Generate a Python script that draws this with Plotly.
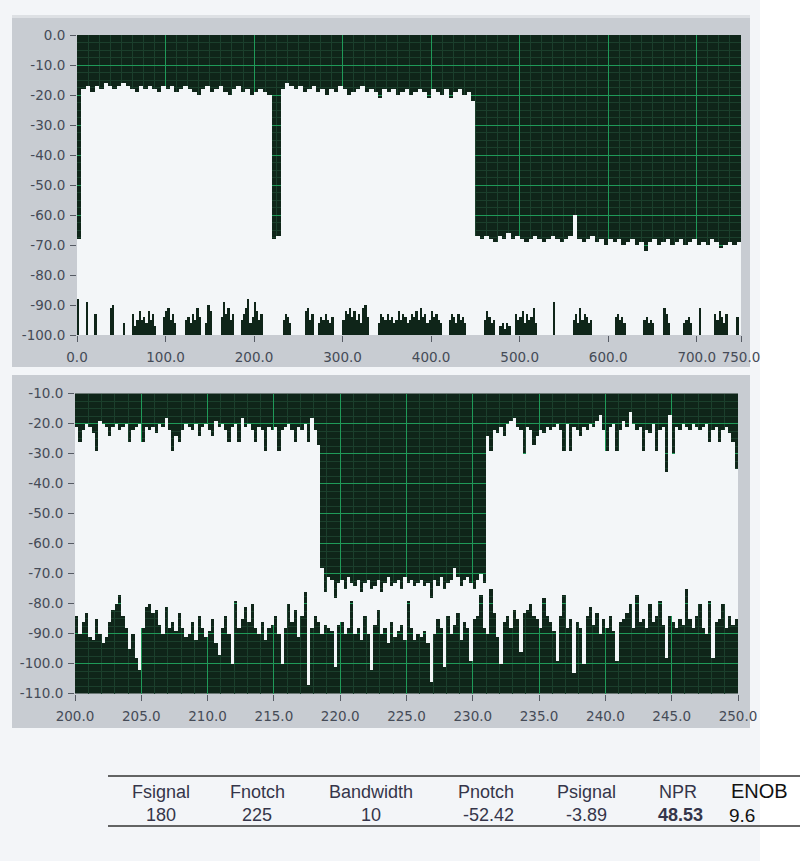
import plotly.graph_objects as go

W, H = 800, 861

# ---------------- DATA ----------------
# Full-band spectrum 0..750 (upper envelope, dB), bins of 5 units
TOP_START = 0.0
TOP_STEP = 5.0
top_upper = [
    -68,
    -18, -17, -19, -17, -18, -16, -17, -18, -17, -16,
    -17, -18, -19, -17, -18, -17, -18, -19, -17, -18,
    -17, -19, -18, -17, -18, -19, -20, -18, -17, -19,
    -18, -17, -19, -20, -18, -17, -19, -18, -20, -19,
    -18, -19, -20,
    -68, -67,
    -18, -16, -17, -18, -17, -19, -18, -17, -19, -18,
    -20, -18, -19, -17, -18, -20, -19, -18, -17, -19,
    -18, -19, -21, -18, -19, -18, -20, -19, -18, -20,
    -19, -18, -19, -21, -18, -19, -20, -18, -21, -19,
    -18, -20, -19, -22,
    -67, -68, -67, -68, -69, -67, -68, -66, -68, -67,
    -68, -69, -68, -67, -68, -69, -68, -67, -68, -69,
    -68, -67, -60, -68, -69, -68, -67, -69, -68, -70,
    -68, -69, -68, -70, -69, -68, -70, -69, -72, -69,
    -68, -70, -69, -68, -70, -69, -68, -70, -69, -68,
    -70, -69, -70, -68, -69, -71, -70, -69, -70, -69,
]
# Full-band spectrum lower envelope (dB), bins of 2.5 units
TOP_FLOOR_STEP = 2.5
top_floor = [
    -88, -100, -100, -100, -89, -100, -100, -100, -93, -100,
    -100, -100, -100, -100, -100, -91, -90, -100, -100, -100,
    -100, -96, -100, -100, -100, -93, -97, -95, -92, -95,
    -94, -96, -92, -95, -93, -97, -100, -100, -100, -94,
    -92, -91, -95, -93, -96, -100, -100, -100, -100, -95,
    -94, -96, -93, -95, -91, -94, -100, -100, -96, -90,
    -92, -100, -100, -100, -100, -94, -89, -93, -91, -95,
    -93, -100, -100, -100, -95, -93, -91, -88, -96, -94,
    -89, -92, -95, -93, -100, -100, -100, -100, -100, -100,
    -100, -100, -100, -95, -93, -94, -96, -100, -100, -100,
    -100, -100, -100, -92, -91, -95, -93, -100, -100, -96,
    -94, -95, -93, -95, -96, -94, -100, -100, -100, -100,
    -95, -92, -93, -91, -94, -92, -95, -93, -96, -91,
    -90, -94, -100, -100, -100, -100, -96, -93, -94, -95,
    -93, -95, -94, -96, -95, -92, -95, -93, -94, -96,
    -95, -93, -94, -92, -95, -91, -94, -93, -96, -95,
    -92, -94, -93, -95, -96, -100, -100, -100, -95, -93,
    -94, -96, -93, -95, -94, -96, -100, -100, -100, -100,
    -100, -100, -100, -100, -95, -92, -94, -96, -95, -100,
    -100, -97, -96, -98, -96, -97, -100, -100, -93, -95,
    -94, -92, -96, -93, -95, -94, -91, -96, -100, -100,
    -100, -100, -100, -100, -100, -89, -100, -100, -100, -100,
    -100, -100, -100, -100, -95, -93, -96, -91, -95, -93,
    -94, -96, -95, -100, -100, -100, -100, -100, -100, -100,
    -100, -100, -100, -94, -93, -95, -94, -96, -100, -100,
    -100, -100, -100, -100, -100, -100, -95, -94, -96, -95,
    -96, -100, -100, -100, -100, -91, -93, -96, -100, -100,
    -100, -100, -100, -100, -96, -95, -94, -96, -100, -100,
    -100, -91, -100, -100, -100, -100, -100, -100, -93, -95,
    -92, -94, -96, -93, -100, -100, -100, -100, -94, -100,
]

# Zoomed spectrum 200..250, bins of 0.25 units
ZOOM_START = 200.0
ZOOM_STEP = 0.25
zoom_upper = [
    -21, -26, -22, -20, -21, -23, -29, -19, -20, -21,
    -24, -21, -20, -22, -21, -20, -26, -22, -21, -20,
    -26, -21, -22, -21, -23, -20, -21, -18, -22, -29,
    -24, -26, -22, -20, -21, -22, -20, -24, -21, -20,
    -22, -24, -19, -21, -20, -22, -26, -21, -20, -26,
    -18, -21, -20, -22, -26, -21, -22, -29, -21, -22,
    -21, -29, -22, -21, -20, -22, -26, -21, -22, -20,
    -26, -18, -22, -27,
    -68, -76, -71, -72, -78, -73, -72, -75, -71, -73,
    -74, -72, -76, -73, -72, -75, -74, -72, -76, -73,
    -71, -74, -73, -72, -75, -71, -73, -72, -74, -73,
    -72, -74, -73, -78, -72, -74, -71, -75, -73, -72,
    -68, -71, -74, -72, -71, -73, -75, -72, -70, -73,
    -24, -29, -22, -23, -21, -24, -20, -19, -18, -21,
    -22, -30, -21, -22, -27, -24, -22, -23, -21, -22,
    -21, -20, -22, -29, -20, -29, -21, -22, -24, -21,
    -22, -20, -21, -19, -17, -22, -29, -21, -20, -29,
    -22, -19, -21, -16, -20, -22, -21, -29, -22, -23,
    -20, -29, -22, -21, -36, -17, -30, -21, -22, -20,
    -21, -22, -20, -21, -22, -21, -20, -26, -22, -21,
    -26, -22, -21, -23, -26, -35,
]
zoom_lower = [
    -84, -90, -86, -83, -91, -92, -85, -90, -93, -91,
    -86, -82, -80, -77, -84, -88, -95, -90, -98, -102,
    -88, -81, -80, -83, -82, -87, -90, -81, -88, -86,
    -89, -83, -88, -91, -90, -86, -92, -84, -88, -91,
    -89, -85, -93, -97, -88, -84, -90, -100, -79, -88,
    -85, -81, -86, -80, -88, -90, -86, -92, -88, -87,
    -84, -90, -100, -88, -80, -86, -82, -91, -84, -76,
    -107, -88, -84, -86, -90, -87, -88, -89, -101, -87,
    -86, -90, -88, -79, -90, -88, -92, -84, -90, -102,
    -87, -82, -90, -88, -93, -86, -91, -89, -87, -92,
    -79, -88, -92, -90, -91, -89, -93, -106, -90, -85,
    -88, -101, -84, -90, -87, -83, -92, -86, -88, -99,
    -85, -84, -77, -88, -90, -75, -83, -91, -100, -86,
    -84, -88, -82, -85, -96, -83, -82, -80, -84, -85,
    -88, -78, -84, -86, -89, -99, -84, -77, -88, -85,
    -103, -86, -88, -100, -84, -81, -87, -83, -90, -85,
    -88, -84, -89, -99, -86, -85, -83, -80, -88, -77,
    -86, -85, -88, -80, -86, -84, -79, -87, -98, -84,
    -86, -88, -85, -87, -75, -85, -88, -84, -80, -88,
    -90, -79, -98, -86, -85, -80, -88, -84, -87, -85,
]

top_x_ticks = [0, 100, 200, 300, 400, 500, 600, 700, 750]
top_x_labels = ["0.0", "100.0", "200.0", "300.0", "400.0", "500.0", "600.0", "700.0", "750.0"]
top_y_ticks = [0, -10, -20, -30, -40, -50, -60, -70, -80, -90, -100]
top_y_labels = ["0.0", "-10.0", "-20.0", "-30.0", "-40.0", "-50.0", "-60.0", "-70.0", "-80.0", "-90.0", "-100.0"]
zoom_x_ticks = [200, 205, 210, 215, 220, 225, 230, 235, 240, 245, 250]
zoom_x_labels = ["200.0", "205.0", "210.0", "215.0", "220.0", "225.0", "230.0", "235.0", "240.0", "245.0", "250.0"]
zoom_y_ticks = [-10, -20, -30, -40, -50, -60, -70, -80, -90, -100, -110]
zoom_y_labels = ["-10.0", "-20.0", "-30.0", "-40.0", "-50.0", "-60.0", "-70.0", "-80.0", "-90.0", "-100.0", "-110.0"]

table_headers = ["Fsignal", "Fnotch", "Bandwidth", "Pnotch", "Psignal", "NPR"]
table_values = ["180", "225", "10", "-52.42", "-3.89", "48.53"]
enob_header = "ENOB"
enob_value = "9.6"

# ---------------- STYLE ----------------
DARK = "#0f2519"
WHITE = "#f3f6f8"
GRID = "#1f9a58"
MINOR = "#1b3f2c"
FRAME = "#c8ccd2"
PAGE = "#f3f5f8"
TICKFONT = dict(family="DejaVu Sans", size=13.5, color="#454b57")

TOP_MIN, TOP_MAX = -100, 0
ZOOM_MIN, ZOOM_MAX = -110, -10

def px(x):
    return x / W

def py(y):
    return 1 - y / H

top_x = [TOP_START + TOP_STEP * (i + 0.5) for i in range(len(top_upper))]
floor_x = [TOP_START + TOP_FLOOR_STEP * (i + 0.5) for i in range(len(top_floor))]
zoom_x = [ZOOM_START + ZOOM_STEP * (i + 0.5) for i in range(len(zoom_upper))]

fig = go.Figure()
fig.add_trace(go.Bar(
    x=top_x, y=[u - TOP_MIN for u in top_upper], base=TOP_MIN, width=TOP_STEP,
    marker=dict(color=WHITE, line=dict(width=0)), xaxis="x", yaxis="y",
    hoverinfo="skip", showlegend=False))
fig.add_trace(go.Bar(
    x=floor_x, y=[f - TOP_MIN for f in top_floor], base=TOP_MIN, width=TOP_FLOOR_STEP * 0.8,
    marker=dict(color=DARK, line=dict(width=0)), xaxis="x", yaxis="y",
    hoverinfo="skip", showlegend=False))
fig.add_trace(go.Bar(
    x=zoom_x, y=[u - l for u, l in zip(zoom_upper, zoom_lower)], base=zoom_lower, width=ZOOM_STEP,
    marker=dict(color=WHITE, line=dict(width=0)), xaxis="x2", yaxis="y2",
    hoverinfo="skip", showlegend=False))

shapes = [
    dict(type="rect", xref="paper", yref="paper", x0=0, x1=px(760), y0=0, y1=1,
         fillcolor=PAGE, line=dict(width=0), layer="below"),
    dict(type="rect", xref="paper", yref="paper", x0=px(12), x1=px(750), y0=py(367), y1=py(15),
         fillcolor=FRAME, line=dict(width=0), layer="below"),
    dict(type="rect", xref="paper", yref="paper", x0=px(12), x1=px(750), y0=py(728), y1=py(375),
         fillcolor=FRAME, line=dict(width=0), layer="below"),
    dict(type="rect", xref="paper", yref="paper", x0=px(12), x1=px(750), y0=py(18), y1=py(15),
         fillcolor="#dde0e4", line=dict(width=0), layer="below"),
    dict(type="rect", xref="x domain", yref="y domain", x0=0, x1=1, y0=0, y1=1,
         fillcolor=DARK, line=dict(width=0), layer="below"),
    dict(type="rect", xref="x2 domain", yref="y2 domain", x0=0, x1=1, y0=0, y1=1,
         fillcolor=DARK, line=dict(width=0), layer="below"),
    dict(type="line", xref="paper", yref="paper", x0=px(108), x1=px(800), y0=py(776), y1=py(776),
         line=dict(color="#333333", width=1.5)),
    dict(type="line", xref="paper", yref="paper", x0=px(108), x1=px(800), y0=py(826), y1=py(826),
         line=dict(color="#333333", width=1.5)),
]

annotations = []
header_x = [161, 257, 371, 486, 586, 678]
for hx, htxt, vtxt in zip(header_x, table_headers, table_values):
    annotations.append(dict(x=px(hx), y=py(792), xref="paper", yref="paper", text=htxt,
                            showarrow=False, xanchor="center", yanchor="middle",
                            font=dict(family="Liberation Sans", size=18, color="#35354a")))
    vt = "<b>" + vtxt + "</b>" if htxt == "NPR" else vtxt
    annotations.append(dict(x=px(hx + (2 if htxt in ("Pnotch", "NPR") else 0)), y=py(815),
                            xref="paper", yref="paper", text=vt,
                            showarrow=False, xanchor="center", yanchor="middle",
                            font=dict(family="Liberation Sans", size=18, color="#35354a")))
annotations.append(dict(x=px(729), y=py(791), xref="paper", yref="paper", text=enob_header,
                        showarrow=False, xanchor="left", yanchor="middle",
                        font=dict(family="Liberation Sans", size=20, color="#111111")))
annotations.append(dict(x=px(727), y=py(815), xref="paper", yref="paper", text=enob_value,
                        showarrow=False, xanchor="left", yanchor="middle",
                        font=dict(family="Liberation Sans", size=19, color="#111111")))

axis_common = dict(showgrid=True, gridcolor=GRID, gridwidth=1, zeroline=False, showline=False,
                   ticks="outside", ticklen=6, tickcolor="#555a63", tickwidth=1,
                   tickfont=TICKFONT, fixedrange=True, tickmode="array", automargin=False)

fig.update_layout(
    width=W, height=H, margin=dict(l=0, r=0, t=0, b=0, pad=0, autoexpand=False),
    paper_bgcolor="white", plot_bgcolor="rgba(0,0,0,0)",
    barmode="overlay", bargap=0, showlegend=False,
    shapes=shapes, annotations=annotations,
    xaxis=dict(axis_common, domain=[px(77), px(741)], range=[0, 750], anchor="y",
               tickvals=top_x_ticks, ticktext=top_x_labels, ticklabelstandoff=4,
               minor=dict(tickmode="linear", tick0=0, dtick=12.5, showgrid=True,
                          gridcolor=MINOR, gridwidth=1, ticks="")),
    yaxis=dict(axis_common, domain=[py(335), py(35)], range=[TOP_MIN, TOP_MAX], anchor="x",
               tickvals=top_y_ticks, ticktext=top_y_labels, ticklabelstandoff=2,
               minor=dict(tickmode="linear", tick0=0, dtick=2.5, showgrid=True,
                          gridcolor=MINOR, gridwidth=1, ticks="")),
    xaxis2=dict(axis_common, domain=[px(75), px(738)], range=[200, 250], anchor="y2",
                tickvals=zoom_x_ticks, ticktext=zoom_x_labels, ticklabelstandoff=4,
                minor=dict(tickmode="linear", tick0=200, dtick=1, showgrid=True,
                           gridcolor=MINOR, gridwidth=1, ticks="")),
    yaxis2=dict(axis_common, domain=[py(693.5), py(393.5)], range=[ZOOM_MIN, ZOOM_MAX], anchor="x2",
                tickvals=zoom_y_ticks, ticktext=zoom_y_labels, ticklabelstandoff=2,
                minor=dict(tickmode="linear", tick0=-10, dtick=2.5, showgrid=True,
                           gridcolor=MINOR, gridwidth=1, ticks="")),
)

fig.write_html("out.html", config={"displayModeBar": False},
               post_script="document.body.style.margin='0';")
